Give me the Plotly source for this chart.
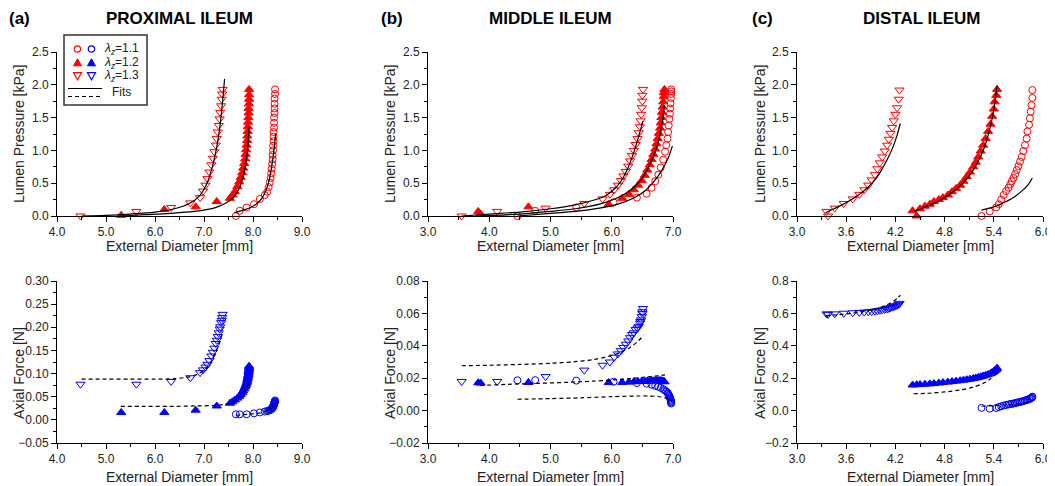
import plotly.graph_objects as go

# ---------------- data ----------------
# Proximal ileum
prox_d11 = [7.65,7.73,7.87,8.02,8.14,8.24,8.29,8.32,8.34,8.36,8.37,8.38,8.39,8.40,8.40,8.41,8.41,8.42,8.42,8.42,8.43,8.43,8.43,8.44,8.44,8.44,8.44,8.45,8.45]
prox_p11 = [0.00,0.08,0.13,0.18,0.26,0.32,0.37,0.44,0.51,0.58,0.65,0.72,0.79,0.86,0.93,1.00,1.07,1.14,1.21,1.28,1.35,1.42,1.50,1.57,1.64,1.71,1.79,1.86,1.93]
prox_f11 = [0.012,0.012,0.012,0.014,0.016,0.018,0.019,0.020,0.021,0.022,0.023,0.024,0.025,0.026,0.027,0.028,0.029,0.030,0.031,0.032,0.033,0.034,0.035,0.036,0.037,0.038,0.039,0.040,0.042]
prox_d12 = [5.31,6.19,6.83,7.26,7.53,7.58,7.63,7.68,7.72,7.75,7.78,7.80,7.82,7.84,7.85,7.86,7.87,7.88,7.885,7.89,7.895,7.90,7.905,7.91,7.91,7.915,7.92,7.92,7.92]
prox_p12 = [0.01,0.10,0.14,0.22,0.27,0.32,0.37,0.45,0.52,0.59,0.66,0.73,0.80,0.87,0.94,1.01,1.08,1.15,1.22,1.29,1.36,1.43,1.50,1.57,1.64,1.71,1.78,1.85,1.93]
prox_f12 = [0.016,0.016,0.021,0.030,0.036,0.039,0.043,0.047,0.051,0.055,0.059,0.063,0.067,0.071,0.074,0.077,0.080,0.083,0.086,0.089,0.092,0.095,0.098,0.101,0.104,0.107,0.110,0.113,0.116]
prox_d13 = [4.48,5.62,6.33,6.72,6.92,6.98,7.03,7.07,7.11,7.15,7.18,7.21,7.24,7.26,7.28,7.30,7.32,7.33,7.35,7.36,7.37,7.38]
prox_p13 = [0.00,0.07,0.13,0.20,0.28,0.38,0.47,0.57,0.67,0.78,0.88,0.98,1.08,1.18,1.28,1.38,1.48,1.58,1.68,1.78,1.86,1.93]
prox_f13 = [0.077,0.077,0.083,0.091,0.102,0.108,0.114,0.120,0.128,0.138,0.146,0.155,0.165,0.172,0.180,0.188,0.196,0.201,0.210,0.215,0.221,0.228]
# fits
prox_fit_p11_d = [7.62,7.80,7.95,8.08,8.18,8.26,8.32,8.37,8.41,8.44,8.46]
prox_fit_p11_v = [0.05,0.09,0.13,0.19,0.27,0.38,0.52,0.70,0.90,1.08,1.25]
prox_fit_p12_d = [5.30,5.80,6.30,6.80,7.20,7.50,7.65,7.75,7.82,7.87,7.90,7.92]
prox_fit_p12_v = [0.00,0.02,0.04,0.07,0.12,0.22,0.33,0.48,0.66,0.88,1.10,1.36]
prox_fit_p13_d = [4.50,5.00,5.50,6.00,6.40,6.70,6.90,7.05,7.17,7.26,7.33,7.38,7.42]
prox_fit_p13_v = [0.00,0.01,0.03,0.06,0.11,0.19,0.30,0.48,0.75,1.05,1.40,1.75,2.09]
prox_fit_f11_d = [7.65,7.90,8.10,8.25,8.35,8.42,8.45]
prox_fit_f11_v = [0.010,0.012,0.014,0.018,0.024,0.031,0.036]
prox_fit_f12_d = [5.30,5.80,6.30,6.80,7.20,7.45,7.60,7.72,7.82,7.88,7.92]
prox_fit_f12_v = [0.029,0.029,0.029,0.030,0.031,0.034,0.040,0.050,0.062,0.072,0.080]
prox_fit_f13_d = [4.50,5.00,5.50,6.00,6.40,6.70,6.90,7.05,7.15,7.25,7.32,7.38]
prox_fit_f13_v = [0.088,0.088,0.088,0.088,0.089,0.093,0.100,0.112,0.127,0.148,0.168,0.190]

# Middle ileum
mid_d11 = [4.46,4.75,5.42,6.03,6.41,6.57,6.65,6.71,6.76,6.80,6.84,6.87,6.89,6.91,6.92,6.93,6.94,6.95,6.955,6.96,6.965,6.97,6.97,6.97]
mid_p11 = [0.00,0.08,0.13,0.21,0.28,0.34,0.43,0.53,0.63,0.74,0.86,0.98,1.08,1.18,1.28,1.38,1.48,1.56,1.64,1.72,1.80,1.86,1.90,1.93]
mid_f11 = [0.0187,0.0188,0.0185,0.0178,0.0170,0.0166,0.0160,0.0153,0.0147,0.0140,0.0132,0.0125,0.0118,0.0111,0.0104,0.0097,0.0090,0.0082,0.0075,0.0068,0.0061,0.0055,0.0049,0.0044]
mid_d12 = [3.82,3.86,4.64,5.95,6.17,6.28,6.36,6.43,6.49,6.54,6.58,6.62,6.65,6.68,6.71,6.73,6.75,6.77,6.79,6.80,6.81,6.82,6.83,6.84,6.85,6.85,6.86]
mid_p12 = [0.07,0.03,0.14,0.18,0.27,0.33,0.40,0.47,0.54,0.62,0.70,0.78,0.86,0.94,1.02,1.10,1.18,1.26,1.34,1.42,1.50,1.58,1.66,1.74,1.82,1.88,1.93]
mid_f12 = [0.0172,0.0170,0.0174,0.0173,0.0174,0.0176,0.0178,0.0179,0.0180,0.0181,0.0182,0.0183,0.0184,0.0184,0.0185,0.0185,0.0185,0.0185,0.0185,0.0184,0.0184,0.0183,0.0182,0.0181,0.0180,0.0179,0.0178]
mid_d13 = [3.55,4.13,4.92,5.55,5.85,5.97,6.04,6.10,6.15,6.19,6.23,6.27,6.30,6.33,6.36,6.39,6.42,6.44,6.46,6.47,6.48,6.49,6.50,6.50,6.51]
mid_p13 = [0.00,0.07,0.12,0.19,0.26,0.33,0.40,0.47,0.54,0.61,0.68,0.76,0.84,0.92,1.00,1.09,1.18,1.27,1.36,1.45,1.55,1.65,1.75,1.84,1.93]
mid_f13 = [0.018,0.018,0.021,0.025,0.028,0.030,0.033,0.035,0.037,0.039,0.041,0.043,0.045,0.047,0.048,0.050,0.051,0.052,0.054,0.055,0.056,0.058,0.060,0.061,0.063]
mid_fit_p11_d = [4.46,5.00,5.40,5.80,6.10,6.35,6.55,6.70,6.82,6.92,6.99]
mid_fit_p11_v = [0.00,0.04,0.07,0.12,0.18,0.27,0.39,0.54,0.70,0.88,1.07]
mid_fit_p12_d = [3.85,4.50,5.00,5.40,5.80,6.05,6.25,6.40,6.52,6.62,6.71,6.78,6.83,6.86]
mid_fit_p12_v = [0.00,0.03,0.07,0.11,0.18,0.26,0.36,0.47,0.61,0.78,0.98,1.20,1.45,1.68]
mid_fit_p13_d = [3.55,4.00,4.50,5.00,5.40,5.70,5.90,6.05,6.15,6.25,6.33,6.42,6.51]
mid_fit_p13_v = [0.00,0.03,0.06,0.11,0.17,0.24,0.31,0.42,0.53,0.70,0.89,1.15,1.45]
mid_fit_f11_d = [4.46,5.00,5.50,6.00,6.40,6.60,6.75,6.87,6.95,6.99]
mid_fit_f11_v = [0.0070,0.0074,0.0079,0.0086,0.0090,0.0090,0.0087,0.0079,0.0067,0.0056]
mid_fit_f12_d = [3.85,4.30,4.80,5.30,5.70,6.00,6.30,6.55,6.75,6.87]
mid_fit_f12_v = [0.0155,0.0162,0.0168,0.0175,0.0182,0.0189,0.0198,0.0207,0.0215,0.0220]
mid_fit_f13_d = [3.55,4.00,4.50,5.00,5.40,5.70,5.95,6.15,6.30,6.42,6.52]
mid_fit_f13_v = [0.0277,0.0280,0.0285,0.0292,0.0302,0.0315,0.0335,0.0360,0.0390,0.0425,0.0465]

# Distal ileum
dist_d11 = [5.25,5.35,5.43,5.46,5.49,5.52,5.55,5.58,5.60,5.62,5.64,5.66,5.68,5.70,5.72,5.74,5.76,5.78,5.80,5.81,5.83,5.84,5.85,5.86,5.87,5.87]
dist_p11 = [0.00,0.07,0.13,0.18,0.25,0.32,0.38,0.43,0.48,0.53,0.58,0.64,0.70,0.76,0.83,0.90,0.99,1.08,1.18,1.29,1.39,1.49,1.59,1.69,1.80,1.92]
dist_f11 = [0.017,0.012,0.016,0.022,0.027,0.031,0.035,0.038,0.040,0.042,0.044,0.046,0.049,0.051,0.053,0.056,0.059,0.062,0.065,0.067,0.070,0.073,0.076,0.079,0.083,0.086]
dist_d12 = [4.41,4.46,4.50,4.56,4.62,4.67,4.73,4.78,4.84,4.89,4.94,4.99,5.03,5.07,5.11,5.15,5.18,5.21,5.24,5.27,5.30,5.33,5.36,5.38,5.40,5.41,5.43,5.44]
dist_p12 = [0.08,0.00,0.11,0.15,0.18,0.22,0.25,0.28,0.32,0.37,0.42,0.47,0.53,0.60,0.67,0.75,0.82,0.90,0.99,1.08,1.18,1.29,1.40,1.52,1.63,1.74,1.84,1.93]
dist_f12 = [0.158,0.160,0.161,0.163,0.165,0.167,0.170,0.173,0.176,0.179,0.182,0.185,0.188,0.191,0.194,0.198,0.201,0.205,0.209,0.213,0.218,0.223,0.229,0.235,0.241,0.247,0.254,0.262]
dist_d13 = [3.36,3.38,3.46,3.57,3.68,3.76,3.82,3.87,3.91,3.95,3.98,4.01,4.04,4.07,4.10,4.12,4.14,4.16,4.18,4.20,4.22,4.24,4.25]
dist_p13 = [0.07,0.00,0.12,0.19,0.26,0.33,0.40,0.47,0.55,0.63,0.72,0.81,0.90,0.99,1.08,1.17,1.26,1.35,1.45,1.55,1.65,1.78,1.92]
dist_f13 = [0.597,0.594,0.597,0.601,0.604,0.606,0.608,0.610,0.612,0.614,0.616,0.619,0.622,0.625,0.628,0.631,0.635,0.638,0.642,0.646,0.650,0.656,0.662]
dist_fit_p11_d = [5.25,5.35,5.45,5.55,5.65,5.75,5.82,5.87]
dist_fit_p11_v = [0.09,0.12,0.16,0.22,0.29,0.39,0.48,0.58]
dist_fit_p12_d = [4.43,4.55,4.70,4.85,5.00,5.10,5.20,5.28,5.35,5.40,5.44]
dist_fit_p12_v = [0.07,0.13,0.21,0.32,0.47,0.61,0.81,1.03,1.32,1.62,1.99]
dist_fit_p13_d = [3.35,3.45,3.55,3.65,3.75,3.85,3.95,4.03,4.10,4.17,4.22,4.26]
dist_fit_p13_v = [0.05,0.11,0.17,0.24,0.32,0.42,0.55,0.70,0.86,1.05,1.23,1.41]
dist_fit_f11_d = [5.25,5.40,5.55,5.70,5.80,5.87]
dist_fit_f11_v = [0.027,0.031,0.036,0.043,0.050,0.058]
dist_fit_f12_d = [4.42,4.60,4.80,5.00,5.15,5.27,5.36,5.44]
dist_fit_f12_v = [0.104,0.107,0.115,0.128,0.145,0.168,0.196,0.232]
dist_fit_f13_d = [3.35,3.50,3.65,3.80,3.92,4.02,4.10,4.17,4.22,4.26]
dist_fit_f13_v = [0.585,0.592,0.600,0.611,0.622,0.637,0.654,0.673,0.692,0.712]

panel_titles = ["PROXIMAL ILEUM", "MIDDLE ILEUM", "DISTAL ILEUM"]
panel_letters = ["(a)", "(b)", "(c)"]
legend_labels = ["1.1", "1.2", "1.3"]

# ---------------- layout helpers ----------------
# The page body has the browser's default 8px margin, so the figure is sized and
# laid out in window pixels shifted by that margin.
OFF = 8
W, H = 1055 - OFF, 486 - OFF
def px(x): return (x - OFF) / W
def py(y): return 1 - (y - OFF) / H

RED, BLUE = "#FF0000", "#0000FF"
FONT = "Liberation Sans, Arial, sans-serif"
col_px = [(57, 302), (428, 673), (797, 1043)]
top_px, bot_px = (52, 216), (281, 443)

fig = go.Figure()

panels = [
    dict(p=[(prox_d11, prox_p11), (prox_d12, prox_p12), (prox_d13, prox_p13)],
         f=[(prox_d11, prox_f11), (prox_d12, prox_f12), (prox_d13, prox_f13)],
         fp=[(prox_fit_p11_d, prox_fit_p11_v), (prox_fit_p12_d, prox_fit_p12_v), (prox_fit_p13_d, prox_fit_p13_v)],
         ff=[(prox_fit_f11_d, prox_fit_f11_v), (prox_fit_f12_d, prox_fit_f12_v), (prox_fit_f13_d, prox_fit_f13_v)],
         xr=[4, 9], xd=1, xm=0.5, fr=[-0.05, 0.30], fd=0.05, fm=0.025, ffmt=".2f"),
    dict(p=[(mid_d11, mid_p11), (mid_d12, mid_p12), (mid_d13, mid_p13)],
         f=[(mid_d11, mid_f11), (mid_d12, mid_f12), (mid_d13, mid_f13)],
         fp=[(mid_fit_p11_d, mid_fit_p11_v), (mid_fit_p12_d, mid_fit_p12_v), (mid_fit_p13_d, mid_fit_p13_v)],
         ff=[(mid_fit_f11_d, mid_fit_f11_v), (mid_fit_f12_d, mid_fit_f12_v), (mid_fit_f13_d, mid_fit_f13_v)],
         xr=[3, 7], xd=1, xm=0.5, fr=[-0.02, 0.08], fd=0.02, fm=0.01, ffmt=".2f"),
    dict(p=[(dist_d11, dist_p11), (dist_d12, dist_p12), (dist_d13, dist_p13)],
         f=[(dist_d11, dist_f11), (dist_d12, dist_f12), (dist_d13, dist_f13)],
         fp=[(dist_fit_p11_d, dist_fit_p11_v), (dist_fit_p12_d, dist_fit_p12_v), (dist_fit_p13_d, dist_fit_p13_v)],
         ff=[(dist_fit_f11_d, dist_fit_f11_v), (dist_fit_f12_d, dist_fit_f12_v), (dist_fit_f13_d, dist_fit_f13_v)],
         xr=[3, 6], xd=0.6, xm=0.3, fr=[-0.2, 0.8], fd=0.2, fm=0.1, ffmt=".1f"),
]

symbols_red = ["circle-open", "triangle-up", "triangle-down-open"]
sizes = [7, 8, 8]

def axis_common(rng, dtick, minor, fmt, domain, anchor):
    return dict(range=rng, dtick=dtick, tick0=0, tickformat=fmt, domain=domain, anchor=anchor,
                automargin=False,
                showline=True, linecolor="black", linewidth=1, ticks="outside", ticklen=5,
                tickcolor="black", tickwidth=1, showgrid=False, zeroline=False,
                tickfont=dict(family=FONT, size=12, color="#222"),
                minor=dict(dtick=minor, tick0=0, ticks="outside", ticklen=3, tickcolor="black", showgrid=False))

layout = dict(width=W, height=H, margin=dict(l=0, r=0, t=0, b=0, pad=0, autoexpand=False),
              paper_bgcolor="white", plot_bgcolor="white", showlegend=False)

for i, pn in enumerate(panels):
    xt, yt = i + 1, i + 1          # top row axes 1..3
    xb, yb = i + 4, i + 4          # bottom row axes 4..6
    xdom = [px(col_px[i][0]), px(col_px[i][1])]
    tn = lambda n: "" if n == 1 else str(n)
    layout["xaxis" + tn(xt)] = axis_common(pn["xr"], pn["xd"], pn["xm"], ".1f", xdom, "y" + tn(yt))
    layout["yaxis" + tn(yt)] = axis_common([0, 2.5], 0.5, 0.25, ".1f", [py(top_px[1]), py(top_px[0])], "x" + tn(xt))
    layout["xaxis" + str(xb)] = axis_common(pn["xr"], pn["xd"], pn["xm"], ".1f", xdom, "y" + str(yb))
    layout["yaxis" + str(yb)] = axis_common(pn["fr"], pn["fd"], pn["fm"], pn["ffmt"], [py(bot_px[1]), py(bot_px[0])], "x" + str(xb))
    for k in range(3):
        d, v = pn["p"][k]
        fig.add_trace(go.Scatter(x=d, y=v, mode="markers", xaxis="x" + tn(xt), yaxis="y" + tn(yt),
                                 cliponaxis=False,
                                 marker=dict(symbol=symbols_red[k], size=sizes[k], color=RED, line=dict(color=RED, width=1))))
        d, v = pn["f"][k]
        fig.add_trace(go.Scatter(x=d, y=v, mode="markers", xaxis="x" + str(xb), yaxis="y" + str(yb),
                                 cliponaxis=False,
                                 marker=dict(symbol=symbols_red[k], size=sizes[k], color=BLUE, line=dict(color=BLUE, width=1))))
    for k in range(3):
        d, v = pn["fp"][k]
        fig.add_trace(go.Scatter(x=d, y=v, mode="lines", xaxis="x" + tn(xt), yaxis="y" + tn(yt),
                                 line=dict(color="black", width=1.2, shape="spline", smoothing=0.8)))
        d, v = pn["ff"][k]
        fig.add_trace(go.Scatter(x=d, y=v, mode="lines", xaxis="x" + str(xb), yaxis="y" + str(yb),
                                 line=dict(color="black", width=1.2, dash="4px,3px", shape="spline", smoothing=0.8)))

ann = []
shapes = []
tfont = dict(family=FONT, size=17, color="black")
letter_x = [19, 392, 762]
title_x = [180, 550, 921]
for i in range(3):
    ann.append(dict(text="<b>%s</b>" % panel_letters[i], x=px(letter_x[i]), y=py(18), xref="paper", yref="paper",
                    showarrow=False, xanchor="center", yanchor="middle", font=tfont))
    ann.append(dict(text="<b>%s</b>" % panel_titles[i], x=px(title_x[i]), y=py(18), xref="paper", yref="paper",
                    showarrow=False, xanchor="center", yanchor="middle", font=tfont))
    cx = (col_px[i][0] + col_px[i][1]) / 2
    afont = dict(family=FONT, size=14, color="#222")
    ann.append(dict(text="External Diameter [mm]", x=px(cx), y=py(246), xref="paper", yref="paper",
                    showarrow=False, xanchor="center", yanchor="middle", font=afont))
    ann.append(dict(text="External Diameter [mm]", x=px(cx), y=py(476.5), xref="paper", yref="paper",
                    showarrow=False, xanchor="center", yanchor="middle", font=afont))
    ytx = [19, 390, 760][i]
    ann.append(dict(text="Lumen Pressure [kPa]", x=px(ytx), y=py(134), xref="paper", yref="paper", textangle=-90,
                    showarrow=False, xanchor="center", yanchor="middle", font=afont))
    ann.append(dict(text="Axial Force [N]", x=px(ytx), y=py(373), xref="paper", yref="paper", textangle=-90,
                    showarrow=False, xanchor="center", yanchor="middle", font=afont))

# custom legend (panel a)
shapes.append(dict(type="rect", xref="paper", yref="paper", x0=px(64), x1=px(147), y0=py(105), y1=py(35),
                   line=dict(color="#333", width=1.5), fillcolor="rgba(0,0,0,0)"))
rows_y = [49, 62.5, 76]
sym_x = [77.5, 91.5]
for k, ry in enumerate(rows_y):
    for j, colr in enumerate([RED, BLUE]):
        cx = sym_x[j]
        if k == 0:
            shapes.append(dict(type="circle", xref="paper", yref="paper", x0=px(cx - 3.2), x1=px(cx + 3.2),
                               y0=py(ry + 3.2), y1=py(ry - 3.2), line=dict(color=colr, width=1.2)))
        elif k == 1:
            pts = [(cx - 4, ry + 3.3), (cx + 4, ry + 3.3), (cx, ry - 3.7)]
            path = "M %f,%f L %f,%f L %f,%f Z" % tuple(c for p in pts for c in (px(p[0]), py(p[1])))
            shapes.append(dict(type="path", xref="paper", yref="paper", path=path, fillcolor=colr,
                               line=dict(color=colr, width=1)))
        else:
            pts = [(cx - 4, ry - 3.3), (cx + 4, ry - 3.3), (cx, ry + 3.7)]
            path = "M %f,%f L %f,%f L %f,%f Z" % tuple(c for p in pts for c in (px(p[0]), py(p[1])))
            shapes.append(dict(type="path", xref="paper", yref="paper", path=path,
                               line=dict(color=colr, width=1.2)))
    ann.append(dict(text="<i>λ</i><sub><i>z</i></sub>=%s" % legend_labels[k], x=px(102), y=py(ry), xref="paper",
                    yref="paper", showarrow=False, xanchor="left", yanchor="middle",
                    font=dict(family=FONT, size=12, color="#222")))
shapes.append(dict(type="line", xref="paper", yref="paper", x0=px(68), x1=px(102), y0=py(88.5), y1=py(88.5),
                   line=dict(color="black", width=1.2)))
shapes.append(dict(type="line", xref="paper", yref="paper", x0=px(68), x1=px(102), y0=py(96.5), y1=py(96.5),
                   line=dict(color="black", width=1.2, dash="4px,3px")))
ann.append(dict(text="Fits", x=px(110), y=py(92), xref="paper", yref="paper", showarrow=False,
                xanchor="left", yanchor="middle", font=dict(family=FONT, size=12, color="#222")))

layout["annotations"] = ann
layout["shapes"] = shapes
fig.update_layout(**layout)
fig.write_html("out.html")
